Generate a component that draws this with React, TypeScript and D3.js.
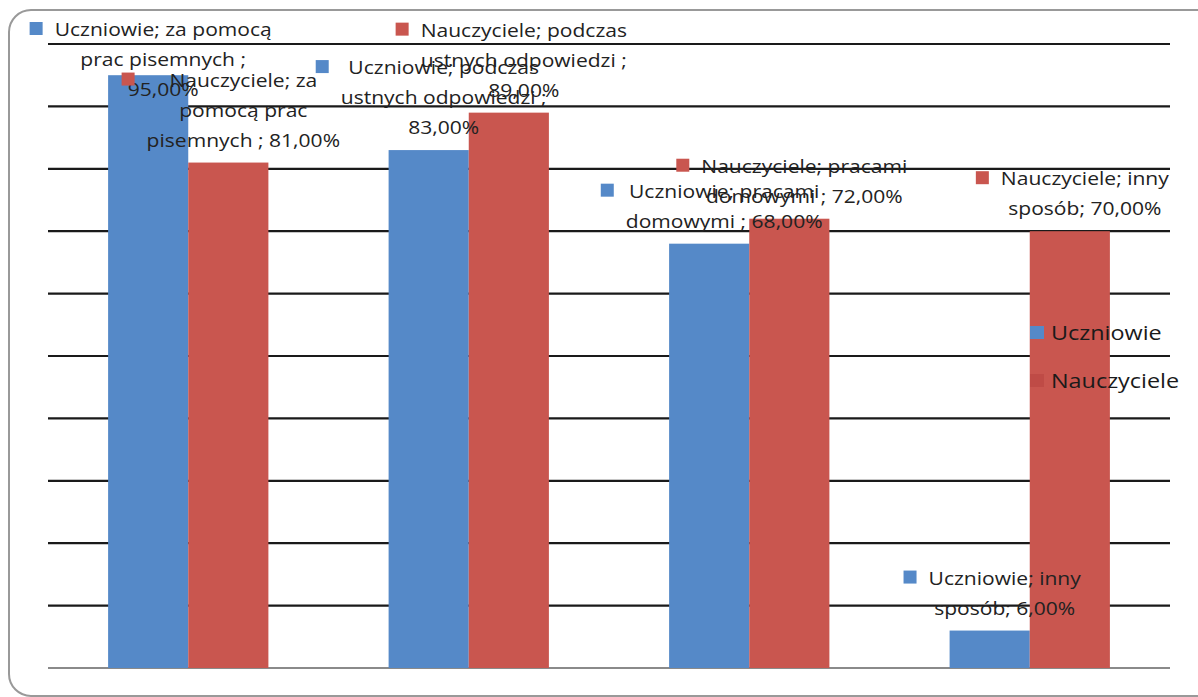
import * as d3 from 'd3';
import React, { useEffect, useRef } from 'react';

const categories = ['za pomocą prac pisemnych ', 'podczas ustnych odpowiedzi ', 'pracami domowymi ', 'inny sposób'];
const seriesNames = ['Uczniowie', 'Nauczyciele'];
const uczniowie = [95, 83, 68, 6];
const nauczyciele = [81, 89, 72, 70];
const yTicks = [0, 10, 20, 30, 40, 50, 60, 70, 80, 90, 100];

// data labels as Excel wrapped them
const uczniowieLabels = [
  ['Uczniowie; za pomocą', 'prac pisemnych ;', '95,00%'],
  ['Uczniowie; podczas', 'ustnych odpowiedzi ;', '83,00%'],
  ['Uczniowie; pracami', 'domowymi ; 68,00%'],
  ['Uczniowie; inny', 'sposób; 6,00%'],
];
const nauczycieleLabels = [
  ['Nauczyciele; za', 'pomocą prac', 'pisemnych ; 81,00%'],
  ['Nauczyciele; podczas', 'ustnych odpowiedzi ;', '89,00%'],
  ['Nauczyciele; pracami', 'domowymi ; 72,00%'],
  ['Nauczyciele; inny', 'sposób; 70,00%'],
];

const colors = ['#5589C8', '#C9564F'];
const W = 1198;
const H = 697;
const margin = { top: 44, right: 28, bottom: 29, left: 48 };
const FONT = '"Open Sans", "Noto Sans", sans-serif';
const SX = 1.17; // the source picture is stretched sideways

const App = () => {
  const ref = useRef<SVGSVGElement>(null);

  useEffect(() => {
    const svg = d3.select(ref.current);
    svg.selectAll('*').remove();

    // outer frame
    svg.append('rect')
      .attr('x', 9).attr('y', 10)
      .attr('width', 1210).attr('height', 686)
      .attr('rx', 22)
      .attr('fill', '#fff')
      .attr('stroke', '#999')
      .attr('stroke-width', 2);

    const x0 = d3.scaleBand<string>()
      .domain(categories)
      .range([margin.left, W - margin.right])
      .padding(0);
    const x1 = d3.scaleBand<string>()
      .domain(seriesNames)
      .range([0, x0.bandwidth()])
      .paddingInner(0)
      .paddingOuter(0.75);
    const y = d3.scaleLinear().domain([0, 100]).range([H - margin.bottom, margin.top]);

    // gridlines
    svg.append('g')
      .selectAll('line')
      .data(yTicks)
      .enter().append('line')
      .attr('x1', margin.left)
      .attr('x2', W - margin.right)
      .attr('y1', d => y(d))
      .attr('y2', d => y(d))
      .attr('stroke', d => (d === 0 ? '#8a8a8a' : '#1a1a1a'))
      .attr('stroke-width', 2.2);

    const allSeries = [uczniowie, nauczyciele];
    const allLabels = [uczniowieLabels, nauczycieleLabels];

    // bars
    allSeries.forEach((vals, s) => {
      svg.append('g')
        .selectAll('rect')
        .data(vals)
        .enter().append('rect')
        .attr('x', (d, i) => (x0(categories[i]) as number) + (x1(seriesNames[s]) as number))
        .attr('y', d => y(d))
        .attr('width', x1.bandwidth())
        .attr('height', d => y(0) - y(d))
        .attr('fill', colors[s]);
    });

    // data labels
    const lineH = 30;
    allSeries.forEach((vals, s) => {
      vals.forEach((v, i) => {
        const lines = allLabels[s][i];
        const cx = (x0(categories[i]) as number) + (x1(seriesNames[s]) as number) + x1.bandwidth() / 2 + 15;
        const firstBase = Math.max(36, y(v) - (lines.length - 1) * lineH - 16);
        const g = svg.append('g');
        const txt = g.append('text')
          .attr('transform', `translate(${cx},${firstBase}) scale(${SX},1)`)
          .attr('font-family', FONT)
          .attr('font-size', 18)
          .attr('fill', '#222')
          .attr('text-anchor', 'middle');
        let maxW = 0;
        lines.forEach((ln, k) => {
          const t = txt.append('tspan')
            .attr('x', 0)
            .attr('y', k * lineH)
            .text(ln);
          const w = (t.node() as SVGTSpanElement).getComputedTextLength() * SX;
          if (w > maxW) maxW = w;
        });
        g.append('rect')
          .attr('x', cx - maxW / 2 - 25)
          .attr('y', firstBase - 14)
          .attr('width', 13)
          .attr('height', 13)
          .attr('fill', colors[s]);
      });
    });

    // legend
    const legend = svg.append('g').attr('transform', 'translate(1030,326)');
    seriesNames.forEach((name, i) => {
      legend.append('rect')
        .attr('x', 0).attr('y', i * 48)
        .attr('width', 14).attr('height', 13)
        .attr('fill', i === 0 ? colors[0] : '#BF4B46');
      legend.append('text')
        .attr('transform', `translate(21,${i * 48 + 14}) scale(${SX},1)`)
        .attr('font-family', FONT)
        .attr('font-size', 20)
        .attr('fill', '#1a1a1a')
        .text(name);
    });
  }, []);

  return (
    <svg ref={ref} width={W} height={H} style={{ position: 'absolute', left: 0, top: 0, background: '#fff' }} />
  );
};

export default App;
